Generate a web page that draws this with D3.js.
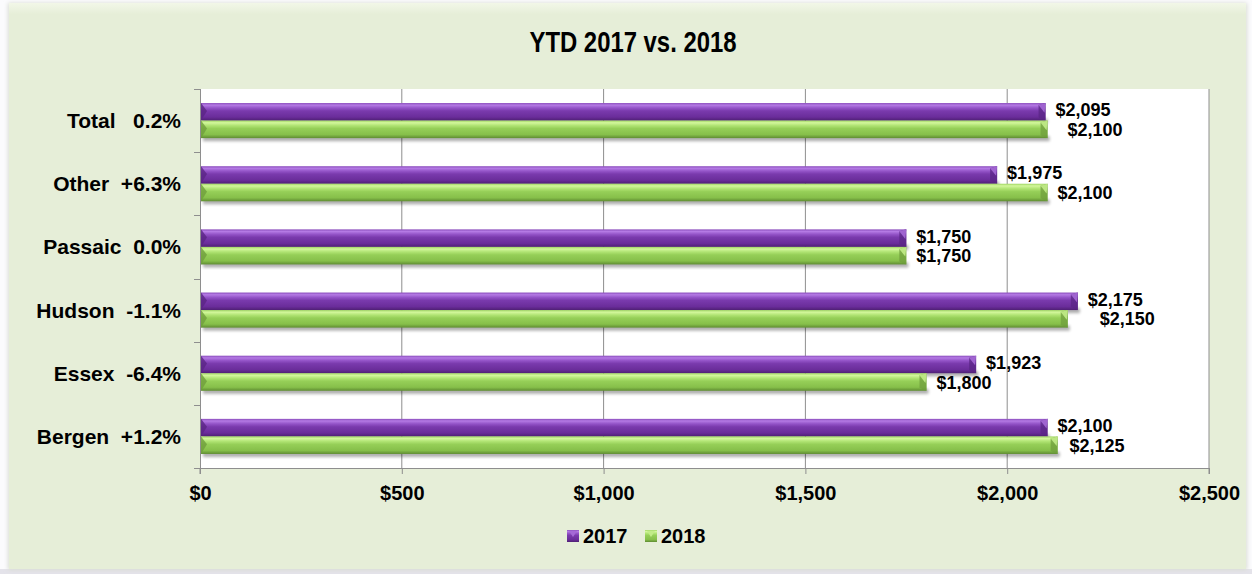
<!DOCTYPE html>
<html>
<head>
<meta charset="utf-8">
<script src="https://cdn.jsdelivr.net/npm/d3@7"></script>
<style>
  html, body { margin: 0; padding: 0; background: #fbfbfd; }
  svg { display: block; }
</style>
</head>
<body>
<svg id="chart" width="1252" height="574"></svg>
<script>
// Categories, top to bottom
const categories = ["Total", "Other", "Passaic", "Hudson", "Essex", "Bergen"];
// Year-over-year change shown next to each category name
const changeLabels = ["0.2%", "+6.3%", "0.0%", "-1.1%", "-6.4%", "+1.2%"];
const series = ["2017", "2018"];
const values2017 = [2095, 1975, 1750, 2175, 1923, 2100];
const values2018 = [2100, 2100, 1750, 2150, 1800, 2125];
const xTicks = [0, 500, 1000, 1500, 2000, 2500];

const svg = d3.select("#chart");
const W = 1252, H = 574;
const plot = { left: 200, right: 1209, top: 89, bottom: 468 };
const FONT = "'Liberation Sans', Arial, sans-serif";

const defs = svg.append("defs");

// Panel background gradient
const bg = defs.append("linearGradient").attr("id", "bgGrad").attr("x1", 0).attr("y1", 0).attr("x2", 0).attr("y2", 1);
bg.append("stop").attr("offset", "0").attr("stop-color", "#f2f7e8");
bg.append("stop").attr("offset", "0.02").attr("stop-color", "#e6eed8");
bg.append("stop").attr("offset", "1").attr("stop-color", "#e6eed8");

// Bar face gradients
const palettes = {
  "2017": [["0", "#8a4cbc"], ["0.12", "#b47ae4"], ["0.28", "#9454c8"], ["0.45", "#7a3aad"], ["0.8", "#6a2d9a"], ["1", "#4f2074"]],
  "2018": [["0", "#9fd562"], ["0.12", "#d3f79c"], ["0.28", "#b1e474"], ["0.45", "#96cf58"], ["0.8", "#86bf4a"], ["1", "#5f8c32"]]
};
Object.entries(palettes).forEach(([k, stops]) => {
  const g = defs.append("linearGradient").attr("id", "bar" + k).attr("x1", 0).attr("y1", 0).attr("x2", 0).attr("y2", 1);
  stops.forEach(([o, c]) => g.append("stop").attr("offset", o).attr("stop-color", c));
});
const endLight = { "2017": "#a569d6", "2018": "#c2ec88" };
const endDark = { "2017": "#5a2585", "2018": "#6f9e3c" };

const blur = defs.append("filter").attr("id", "shadow").attr("x", "-5%").attr("y", "-50%").attr("width", "110%").attr("height", "200%");
blur.append("feGaussianBlur").attr("stdDeviation", 1.6);

const panelBlur = defs.append("filter").attr("id", "panelShadow").attr("x", "-2%").attr("y", "-2%").attr("width", "104%").attr("height", "104%");
panelBlur.append("feGaussianBlur").attr("stdDeviation", 2);

// Panel
svg.append("rect").attr("x", 0).attr("y", 569).attr("width", W).attr("height", 5).attr("fill", "#e4e3ea");
svg.append("rect").attr("x", 8).attr("y", 3).attr("width", 1239).attr("height", 567)
  .attr("fill", "#d9dcd4").attr("filter", "url(#panelShadow)");
svg.append("rect").attr("x", 9).attr("y", 3).attr("width", 1237).attr("height", 566).attr("fill", "url(#bgGrad)");

// Plot area
svg.append("rect").attr("x", plot.left).attr("y", plot.top)
  .attr("width", plot.right - plot.left).attr("height", plot.bottom - plot.top).attr("fill", "#ffffff");

// Scales
const x = d3.scaleLinear().domain([0, 2500]).range([plot.left, plot.right]);
const y = d3.scaleBand().domain(categories).range([plot.top, plot.bottom]).padding(0);
const ySub = d3.scaleBand().domain(series).range([0, y.bandwidth()]).paddingInner(0).paddingOuter(0.8);

// Gridlines
svg.append("g").selectAll("line").data(xTicks.filter(t => t > 0)).join("line")
  .attr("x1", d => x(d)).attr("x2", d => x(d))
  .attr("y1", plot.top).attr("y2", plot.bottom)
  .attr("stroke", "#8e8e8e").attr("stroke-width", 1);

// Bottom axis
const xAxis = d3.axisBottom(x).tickValues(xTicks).tickSize(6).tickPadding(12)
  .tickFormat(d => "$" + d3.format(",")(d));
const gx = svg.append("g").attr("transform", `translate(0,${plot.bottom})`).call(xAxis);
gx.select(".domain").attr("stroke", "#8e8e8e").attr("d", `M${plot.left},0.5H${plot.right}M${plot.left},0.5V6M${plot.right},0.5V6`);
gx.selectAll(".tick line").attr("stroke", "#8e8e8e");
gx.selectAll(".tick text").attr("font-family", FONT).attr("font-weight", "bold")
  .attr("font-size", 20).attr("fill", "#000");

// Left axis line and category boundary ticks
const bounds = categories.map(c => y(c)).concat([plot.bottom]);
const gy = svg.append("g");
gy.append("line").attr("x1", plot.left + 0.5).attr("x2", plot.left + 0.5)
  .attr("y1", plot.top).attr("y2", plot.bottom + 6).attr("stroke", "#8e8e8e");
gy.selectAll("line.tk").data(bounds).join("line").attr("class", "tk")
  .attr("x1", plot.left - 6).attr("x2", plot.left)
  .attr("y1", d => Math.round(d) + 0.5).attr("y2", d => Math.round(d) + 0.5)
  .attr("stroke", "#8e8e8e");

// Category labels
gy.selectAll("text.cat").data(categories).join("text").attr("class", "cat")
  .attr("x", 181).attr("y", d => y(d) + y.bandwidth() / 2)
  .attr("dy", "0.36em").attr("text-anchor", "end")
  .attr("font-family", FONT).attr("font-weight", "bold").attr("font-size", 21)
  .style("white-space", "pre")
  .text((d, i) => d + (d === "Total" ? "   " : "  ") + changeLabels[i]);

// Bars
const rows = [];
categories.forEach((c, i) => {
  rows.push({ cat: c, s: "2017", v: values2017[i] });
  rows.push({ cat: c, s: "2018", v: values2018[i] });
});

const bars = svg.append("g");
rows.forEach(r => {
  const y0 = y(r.cat) + ySub(r.s);
  const h = ySub.bandwidth();
  const x0 = x(0) + 1, x1 = x(r.v);
  const g = bars.append("g");
  // soft shadow under the bar
  g.append("rect").attr("x", x0 + 2).attr("y", y0 + h - 2).attr("width", x1 - x0).attr("height", 5)
    .attr("fill", "#000").attr("opacity", 0.32).attr("filter", "url(#shadow)");
  g.append("rect").attr("x", x0).attr("y", y0).attr("width", x1 - x0).attr("height", h)
    .attr("fill", `url(#bar${r.s})`);
  // bevelled right end
  const b = 7;
  g.append("path").attr("d", `M${x1 - b},${y0 + 2}L${x1},${y0}L${x1},${y0 + h}L${x1 - b},${y0 + h - 3}Z`)
    .attr("fill", endDark[r.s]).attr("opacity", 0.75);
  g.append("path").attr("d", `M${x1 - b},${y0 + 2}L${x1},${y0}L${x1 - 1},${y0 + h * 0.55}Z`)
    .attr("fill", endLight[r.s]).attr("opacity", 0.9);
  // bevelled left end
  g.append("path").attr("d", `M${x0},${y0}L${x0 + 6},${y0 + h * 0.45}L${x0},${y0 + h}Z`)
    .attr("fill", endDark[r.s]).attr("opacity", 0.8);
});

// Value labels
const fmt = v => "$" + d3.format(",")(v);
const labels = svg.append("g");
categories.forEach((c, i) => {
  const h = ySub.bandwidth();
  const pLeft = x(values2017[i]) + 10;
  let gLeft = x(values2018[i]) + 10;
  // keep the 2018 label from sitting under the 2017 label when the bars end close together
  if (Math.abs(values2018[i] - values2017[i]) < 60 && values2018[i] !== values2017[i]) {
    gLeft = Math.max(gLeft, pLeft + 12);
  }
  labels.append("text").attr("x", pLeft).attr("y", y(c) + ySub("2017") + h / 2 - 2)
    .attr("dy", "0.36em").attr("font-family", FONT).attr("font-weight", "bold")
    .attr("font-size", 18).text(fmt(values2017[i]));
  labels.append("text").attr("x", gLeft).attr("y", y(c) + ySub("2018") + h / 2)
    .attr("dy", "0.36em").attr("font-family", FONT).attr("font-weight", "bold")
    .attr("font-size", 18).text(fmt(values2018[i]));
});

// Title (condensed bold)
svg.append("text").attr("x", 633).attr("y", 52).attr("text-anchor", "middle")
  .attr("font-family", FONT)
  .attr("font-weight", "bold").attr("font-size", 30)
  .attr("textLength", 207).attr("lengthAdjust", "spacingAndGlyphs")
  .text("YTD 2017 vs. 2018");

// Legend
const legend = svg.append("g");
const lx = d3.scalePoint().domain(series).range([567, 645]);
series.forEach(s => {
  const gx0 = lx(s);
  legend.append("rect").attr("x", gx0).attr("y", 530).attr("width", 12).attr("height", 12)
    .attr("fill", `url(#bar${s})`);
  legend.append("path").attr("d", `M${gx0 + 2},${531}L${gx0 + 10},${531}L${gx0 + 6},${537}Z`)
    .attr("fill", endLight[s]);
  legend.append("text").attr("x", gx0 + 16).attr("y", 543)
    .attr("font-family", FONT).attr("font-weight", "bold").attr("font-size", 20).text(s);
});
</script>
</body>
</html>
